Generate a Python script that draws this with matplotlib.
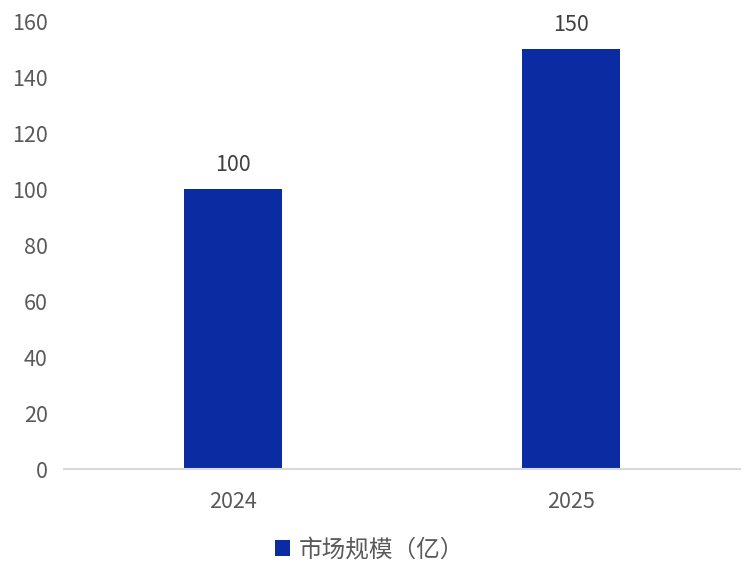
import matplotlib
matplotlib.use('Agg')
import matplotlib.pyplot as plt

years = ['2024', '2025']
market_size = [100, 150]
series_name = '市场规模（亿）'
y_ticks = [0, 20, 40, 60, 80, 100, 120, 140, 160]

plt.rcParams['font.family'] = ['Noto Sans CJK SC', 'DejaVu Sans']

fig = plt.figure(figsize=(7.55, 5.85), dpi=100)
ax = fig.add_axes([0.085, 0.198, 0.895, 0.766])

bars = ax.bar(years, market_size, width=0.29, color='#0B2BA3', label=series_name)
for b, v in zip(bars, market_size):
    ax.text(b.get_x() + b.get_width() / 2, v + 4.5, str(v), ha='center', va='bottom',
            fontsize=15.5, color='#404040')

ax.set_ylim(0, 160)
ax.set_xlim(-0.5, 1.5)
ax.set_yticks(y_ticks)
for s in ['top', 'right', 'left']:
    ax.spines[s].set_visible(False)
ax.spines['bottom'].set_color('#D9D9D9')
ax.spines['bottom'].set_linewidth(1.5)
ax.tick_params(axis='both', length=0, labelsize=15.5, colors='#595959')
ax.tick_params(axis='x', pad=16)
ax.tick_params(axis='y', pad=12)

fig.legend(loc='center', bbox_to_anchor=(0.49, 0.06), frameon=False, fontsize=17,
           labelcolor='#595959', handlelength=0.6, handleheight=0.7, handletextpad=0.4)

fig.savefig('out.png', dpi=100)
